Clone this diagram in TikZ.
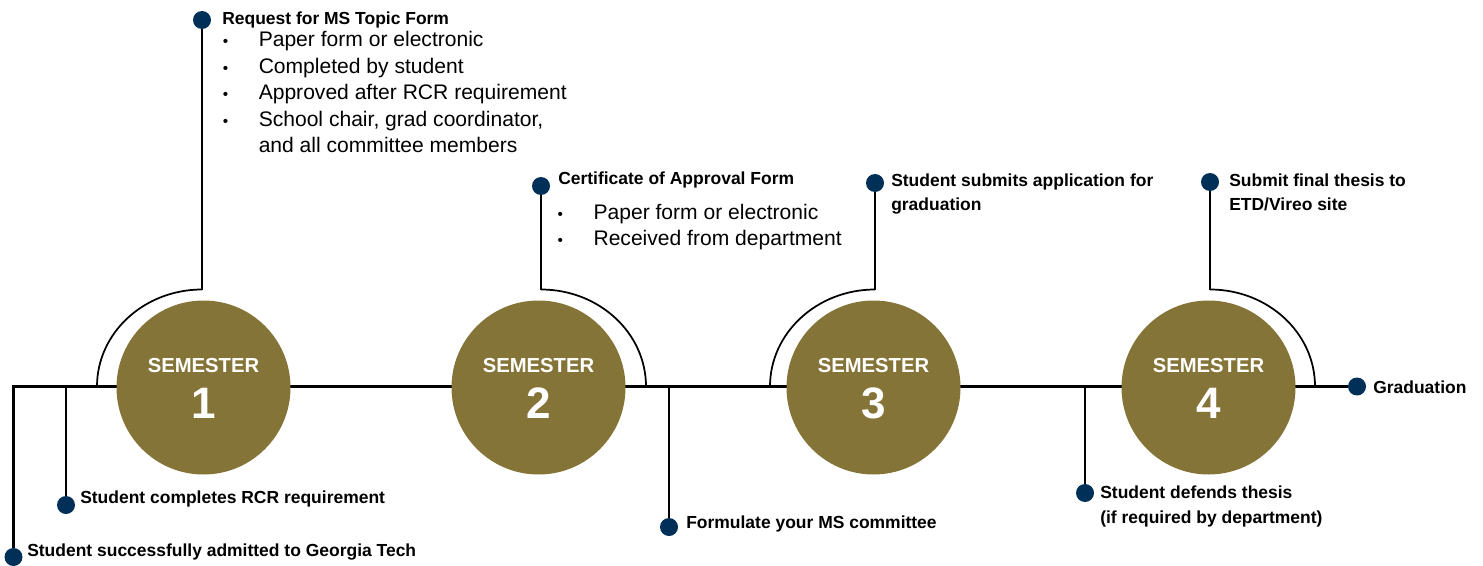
\documentclass[tikz,border=0pt]{standalone}
\usepackage{fontspec}
\setmainfont{Liberation Sans}
\usetikzlibrary{calc,backgrounds}

\definecolor{techgold}{HTML}{857437}
\definecolor{technavy}{HTML}{003057}

\tikzset{
	semester/.style={circle, fill=techgold, minimum size=130.5pt, inner sep=0pt},
	semword/.style={anchor=base, inner sep=0pt, text=white, font=\fontsize{15.2}{18}\selectfont\bfseries},
	semnum/.style={anchor=base, inner sep=0pt, text=white, font=\fontsize{33}{36}\selectfont\bfseries},
	milestone/.style={circle, fill=technavy, minimum size=13.5pt, inner sep=0pt},
	steptext/.style={anchor=base west, inner sep=0pt, align=left, font=\fontsize{13.1}{18.5}\selectfont\bfseries},
	bullets/.style={anchor=base west, inner sep=0pt, font=\fontsize{15.8}{19.9}\selectfont},
	track/.style={line width=1.7pt},
	arcline/.style={line width=1.3pt},
}
\newcommand{\bul}{{\fontsize{11.5}{10}\selectfont\textbullet}}

\begin{document}
\begin{tikzpicture}[x=0.75pt, y=0.75pt]
	%%%%% FRAME %%%%%
	\useasboundingbox (0,0) rectangle (1483,565);
	
	%%%%% SEMESTERS %%%%%
	\node[semester] (sem1) at (203.5,177.5) {};
	\node[semword] (word1) at ($(sem1)+(0,14.8)$) {SEMESTER};
	\node[semnum] (num1) at ($(sem1)+(0,-30.8)$) {1};
	
	\node[semester] (sem2) at (538.5,177.5) {};
	\node[semword] (word2) at ($(sem2)+(0,14.8)$) {SEMESTER};
	\node[semnum] (num2) at ($(sem2)+(0,-30.8)$) {2};
	
	\node[semester] (sem3) at (873.5,177.5) {};
	\node[semword] (word3) at ($(sem3)+(0,14.8)$) {SEMESTER};
	\node[semnum] (num3) at ($(sem3)+(0,-30.8)$) {3};
	
	\node[semester] (sem4) at (1208.5,177.5) {};
	\node[semword] (word4) at ($(sem4)+(0,14.8)$) {SEMESTER};
	\node[semnum] (num4) at ($(sem4)+(0,-30.8)$) {4};
	
	%%%%% MILESTONES %%%%%
	\node[milestone] (admit) at (13.5,8) {};
	\node[milestone] (rcr) at (66,60) {};
	\node[milestone] (topic) at (202,545) {};
	\node[milestone] (approval) at (541,379) {};
	\node[milestone] (committee) at (669,38) {};
	\node[milestone] (apply) at (875,382) {};
	\node[milestone] (defend) at (1085,72) {};
	\node[milestone] (submit) at (1210,383) {};
	\node[milestone] (grad) at (1357,178.5) {};
	
	\coordinate (foot1) at (97,178.5);
	\coordinate (foot2) at (646,178.5);
	\coordinate (foot3) at (770,178.5);
	\coordinate (foot4) at (1315,178.5);
	
	%%%%% TEXT %%%%%
	\node[steptext] (admittext) at (27,8.3) {Student successfully admitted to Georgia Tech};
	\node[steptext] (rcrtext) at (80,61.7) {Student completes RCR requirement};
	\node[steptext] (topictext) at (222,540.5) {Request for MS Topic Form};
	\node[bullets] (topiclist) at (222.5,518.5) {\begin{tabular}[t]{@{}p{27pt}@{}l@{}}
		\bul & Paper form or electronic\\
		\bul & Completed by student\\
		\bul & Approved after RCR requirement\\
		\bul & School chair, grad coordinator,\\
		& and all committee members
	\end{tabular}};
	\node[steptext] (approvaltext) at (558,380.5) {Certificate of Approval Form};
	\node[bullets] (approvallist) at (557.3,346) {\begin{tabular}[t]{@{}p{27pt}@{}l@{}}
		\bul & Paper form or electronic\\
		\bul & Received from department
	\end{tabular}};
	\node[steptext] (committeetext) at (686,36.7) {Formulate your MS committee};
	% base of a two-line node sits on its last line
	\node[steptext] (applytext) at (891,354) {Student submits application for\\graduation};
	\node[steptext] (defendtext) at (1100,41.7) {Student defends thesis\\(if required by department)};
	\node[steptext] (submittext) at (1229,354.3) {Submit final thesis to\\ETD/Vireo site};
	\node[steptext] (gradtext) at (1373,171.7) {Graduation};
	
	%%%%% LINES %%%%%
	\begin{pgfonlayer}{background}
		\draw[track] (grad) -| (admit);
		\draw[track] (rcr) -- (rcr |- grad);
		\draw[track] (committee) -- (committee |- grad);
		\draw[track] (defend) -- (defend |- grad);
		
		\draw[arcline] (foot1) arc[start angle=180, end angle=90, x radius=105, y radius=97] coordinate (top1);
		\draw[track] (top1) -- (topic);
		\draw[arcline] (foot2) arc[start angle=0, end angle=90, x radius=105, y radius=97] coordinate (top2);
		\draw[track] (top2) -- (approval);
		\draw[arcline] (foot3) arc[start angle=180, end angle=90, x radius=105, y radius=97] coordinate (top3);
		\draw[track] (top3) -- (apply);
		\draw[arcline] (foot4) arc[start angle=0, end angle=90, x radius=105, y radius=97] coordinate (top4);
		\draw[track] (top4) -- (submit);
	\end{pgfonlayer}
\end{tikzpicture}
\end{document}
